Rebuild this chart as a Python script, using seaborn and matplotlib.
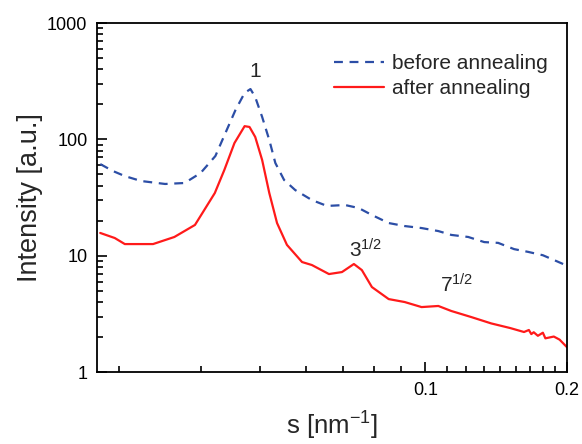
import matplotlib
matplotlib.use("Agg")
import matplotlib.pyplot as plt
import matplotlib.ticker as mticker
import seaborn as sns
import pandas as pd

# SAXS profiles (s in nm^-1, intensity in a.u.)
s_before = [0.0203, 0.0216, 0.0229, 0.0248, 0.0279, 0.0307, 0.0332, 0.0357,
            0.0375, 0.0394, 0.0412, 0.0424, 0.0434, 0.0449, 0.0465, 0.0479,
            0.0500, 0.0528, 0.0573, 0.0617, 0.0674, 0.0721, 0.0769, 0.0835,
            0.0903, 0.0981, 0.1065, 0.1135, 0.1233, 0.1334, 0.1428, 0.1544,
            0.1653, 0.1778, 0.1876, 0.1989]
i_before = [61.4, 53.5, 48.4, 43.9, 41.4, 42.2, 51.4, 72.0,
            113.5, 179, 251, 271, 231, 156, 98.8, 62.7,
            44.8, 36.7, 30.1, 26.8, 27.3, 25.7, 22.4, 19.1,
            18.0, 17.3, 16.3, 15.1, 14.5, 13.1, 12.9, 11.4,
            10.8, 10.1, 9.2, 8.3]

s_after = [0.0203, 0.0218, 0.0229, 0.0263, 0.0292, 0.0323, 0.0335, 0.0356,
           0.0373, 0.0392, 0.0412, 0.0422, 0.0434, 0.0449, 0.0465, 0.0483,
           0.0507, 0.0546, 0.0573, 0.0623, 0.0664, 0.0704, 0.0732, 0.0769,
           0.0835, 0.0903, 0.0981, 0.1065, 0.1135, 0.1252, 0.1380, 0.1515,
           0.1621, 0.1660, 0.1680, 0.1700, 0.1735, 0.1778, 0.1800, 0.1876,
           0.1930, 0.2000]
i_after = [15.7, 14.2, 12.6, 12.6, 14.5, 18.4, 23.3, 34.6,
           54.6, 93.1, 130, 128, 105, 66.5, 34.6, 19.1,
           12.4, 8.83, 8.32, 6.96, 7.24, 8.49, 7.53, 5.38,
           4.24, 4.00, 3.62, 3.70, 3.35, 2.97, 2.62, 2.39,
           2.21, 2.30, 2.12, 2.20, 2.05, 2.18, 1.95, 2.02,
           1.90, 1.64]

series_labels = ["before annealing", "after annealing"]
peak_labels = ["1", "$3^{1/2}$", "$7^{1/2}$"]
peak_s = [0.0434, 0.0746, 0.1163]
peak_i = [380, 11.2, 5.6]

profiles = pd.concat([
    pd.DataFrame({"s": s_before, "intensity": i_before, "sample": series_labels[0]}),
    pd.DataFrame({"s": s_after, "intensity": i_after, "sample": series_labels[1]}),
])

sns.set_theme(style="ticks")
plt.rcParams["font.family"] = ["Liberation Sans", "DejaVu Sans"]
plt.rcParams["mathtext.default"] = "regular"

fig, ax = plt.subplots(figsize=(5.82, 4.44), dpi=100)
fig.subplots_adjust(left=0.167, right=0.974, bottom=0.162, top=0.948)

sns.lineplot(
    data=profiles, x="s", y="intensity", hue="sample", style="sample",
    palette={series_labels[0]: "#2c4ea6", series_labels[1]: "#ff1a1a"},
    dashes={series_labels[0]: (4, 3), series_labels[1]: ""},
    estimator=None, sort=False, linewidth=1.6, ax=ax,
)

ax.set_xscale("log")
ax.set_yscale("log")
ax.set_xlim(0.02, 0.2)
ax.set_ylim(1, 1000)

ax.xaxis.set_major_locator(mticker.FixedLocator([0.1, 0.2]))
ax.xaxis.set_major_formatter(mticker.FixedFormatter(["0.1", "0.2"]))
ax.xaxis.set_minor_locator(mticker.FixedLocator([k / 90 for k in range(2, 18) if k != 9]))
ax.xaxis.set_minor_formatter(mticker.NullFormatter())
ax.yaxis.set_major_locator(mticker.FixedLocator([1, 10, 100, 1000]))
ax.yaxis.set_major_formatter(mticker.FixedFormatter(["1", "10", "100", "1000"]))
ax.yaxis.set_minor_locator(mticker.LogLocator(base=10, subs=range(2, 10)))
ax.yaxis.set_minor_formatter(mticker.NullFormatter())

ax.tick_params(which="both", direction="in", top=False, right=False,
               width=1.2, labelsize=13, colors="black")
ax.tick_params(which="major", length=7, pad=7)
ax.tick_params(which="minor", length=4)
for spine in ax.spines.values():
    spine.set_linewidth(1.3)
    spine.set_color("black")

ax.set_xlabel("s [nm$^{-1}$]", fontsize=18.5, labelpad=8)
ax.set_ylabel("Intensity [a.u.]", fontsize=19.5, labelpad=3)

for label, xs, yi in zip(peak_labels, peak_s, peak_i):
    ax.text(xs, yi, label, fontsize=15, ha="center", va="center")

ax.legend(frameon=False, loc="upper right", bbox_to_anchor=(1.0, 0.965),
          fontsize=15, handlelength=2.4, handletextpad=0.4, labelspacing=0.3)

fig.savefig("out.png", dpi=100)
